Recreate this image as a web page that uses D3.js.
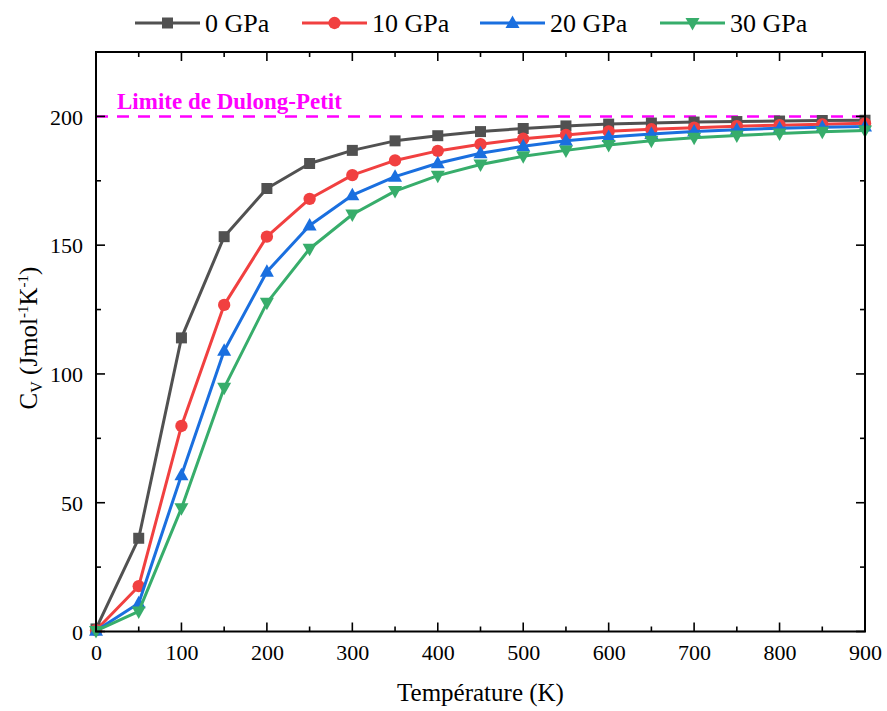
<!DOCTYPE html>
<html>
<head>
<meta charset="utf-8">
<script src="https://cdn.jsdelivr.net/npm/d3@7"></script>
<style>
  #chart text, #chart tspan { font-family: "Liberation Serif", "Times New Roman", Tinos, serif !important; }
</style>
</head>
<body style="margin:0;background:#fff">
<svg id="chart" width="887" height="711" font-family="Liberation Serif"></svg>
<script>
// Temperature grid (K)
const temperatures = [0, 50, 100, 150, 200, 250, 300, 350, 400, 450, 500, 550, 600, 650, 700, 750, 800, 850, 900];

// Heat capacity Cv (J mol^-1 K^-1) at each pressure
const cv0GPa  = [1.0, 36.2, 114.0, 153.3, 172.0, 181.7, 186.8, 190.5, 192.5, 194.1, 195.3, 196.3, 197.0, 197.4, 197.8, 198.0, 198.2, 198.4, 198.5];
const cv10GPa = [0.5, 17.6, 79.8, 126.8, 153.3, 168.0, 177.2, 182.9, 186.6, 189.2, 191.3, 192.8, 194.2, 195.0, 195.6, 196.2, 196.6, 196.9, 197.3];
const cv20GPa = [0.3, 11.0, 60.7, 109.0, 139.7, 157.6, 169.4, 176.6, 181.8, 185.7, 188.4, 190.5, 192.0, 193.2, 194.1, 194.8, 195.4, 195.8, 196.1];
const cv30GPa = [0.2, 7.8, 47.9, 94.6, 127.6, 148.6, 161.9, 171.0, 177.0, 181.3, 184.5, 186.8, 188.9, 190.5, 191.7, 192.6, 193.4, 194.0, 194.5];

const seriesNames = ["0 GPa", "10 GPa", "20 GPa", "30 GPa"];
const seriesValues = [cv0GPa, cv10GPa, cv20GPa, cv30GPa];
const seriesColors = ["#515151", "#F14040", "#1A6FDF", "#37AD6B"];
const seriesSymbols = ["square", "circle", "triangleUp", "triangleDown"];

const xTicks = [0, 100, 200, 300, 400, 500, 600, 700, 800, 900];
const yTicks = [0, 50, 100, 150, 200];
const dulongPetit = 200;

const FONT = '"Liberation Serif", "Times New Roman", Tinos, serif';
const svg = d3.select("#chart");
const margin = { left: 96, right: 22, top: 52, bottom: 80 };
const W = 887, H = 711;
const x = d3.scaleLinear().domain([0, 900]).range([margin.left, W - margin.right]);
const y = d3.scaleLinear().domain([0, 225]).range([H - margin.bottom + 0.5, margin.top]);

// Marker shapes
function symbolPath(kind) {
  if (kind === "square") return `M${-5.5},${-5.5}h11v11h-11z`;
  if (kind === "circle") return d3.symbol(d3.symbolCircle, 120)();
  if (kind === "triangleUp") return `M0,${-7.5}L${7},${5}L${-7},${5}Z`;
  return `M0,${7.5}L${7},${-5}L${-7},${-5}Z`;
}

// Dulong-Petit limit
svg.append("line")
  .attr("x1", x(0)).attr("x2", x(900))
  .attr("y1", y(dulongPetit)).attr("y2", y(dulongPetit))
  .attr("stroke", "#ff00ff").attr("stroke-width", 2.5)
  .attr("stroke-dasharray", "12,9");
svg.append("text")
  .attr("x", 117).attr("y", y(dulongPetit) - 7)
  .attr("fill", "#ff00ff").attr("font-weight", "bold").attr("font-size", 23)
  .text("Limite de Dulong-Petit");

// Series
const line = d3.line().x((d, i) => x(temperatures[i])).y(d => y(d));
seriesValues.forEach((vals, k) => {
  const g = svg.append("g");
  g.append("path").datum(vals)
    .attr("d", line).attr("fill", "none")
    .attr("stroke", seriesColors[k]).attr("stroke-width", 3)
    .attr("stroke-linejoin", "round");
  g.selectAll("path.m").data(vals).join("path").attr("class", "m")
    .attr("d", symbolPath(seriesSymbols[k]))
    .attr("transform", (d, i) => `translate(${x(temperatures[i])},${y(d)})`)
    .attr("fill", seriesColors[k]);
});

// Ticks point inward on all four sides
function drawTicks(orient) {
  const g = svg.append("g");
  const xMinor = d3.range(50, 900, 100);
  const yMinor = d3.range(25, 225, 50);
  if (orient === "bottom" || orient === "top") {
    const y0 = orient === "bottom" ? y(0) : y(225);
    const dir = orient === "bottom" ? -1 : 1;
    xTicks.forEach(t => g.append("line").attr("x1", x(t)).attr("x2", x(t)).attr("y1", y0).attr("y2", y0 + dir * 9));
    xMinor.forEach(t => g.append("line").attr("x1", x(t)).attr("x2", x(t)).attr("y1", y0).attr("y2", y0 + dir * 5));
  } else {
    const x0 = orient === "left" ? x(0) : x(900);
    const dir = orient === "left" ? 1 : -1;
    yTicks.concat([225]).forEach(t => g.append("line").attr("y1", y(t)).attr("y2", y(t)).attr("x1", x0).attr("x2", x0 + dir * 9));
    yMinor.forEach(t => g.append("line").attr("y1", y(t)).attr("y2", y(t)).attr("x1", x0).attr("x2", x0 + dir * 5));
  }
  g.selectAll("line").attr("stroke", "#000").attr("stroke-width", 1.6);
}
["bottom", "top", "left", "right"].forEach(drawTicks);

// Frame
svg.append("rect")
  .attr("x", x(0)).attr("y", y(225))
  .attr("width", x(900) - x(0)).attr("height", y(0) - y(225))
  .attr("fill", "none").attr("stroke", "#000").attr("stroke-width", 2);

// Tick labels via d3 axes
const gx = svg.append("g").attr("transform", `translate(0,${y(0)})`)
  .call(d3.axisBottom(x).tickValues(xTicks).tickSize(0).tickPadding(0));
gx.attr("font-family", null).attr("font-size", null);
gx.select(".domain").remove();
gx.selectAll("text").attr("font-size", 22).attr("fill", "#000").attr("dy", "1.3em");
const gy = svg.append("g").attr("transform", `translate(${x(0)},0)`)
  .call(d3.axisLeft(y).tickValues(yTicks).tickSize(0));
gy.attr("font-family", null).attr("font-size", null);
gy.select(".domain").remove();
gy.selectAll("text").attr("font-size", 22).attr("fill", "#000").attr("x", -13).attr("dy", "0.35em");

// Axis titles
svg.append("text")
  .attr("x", (x(0) + x(900)) / 2).attr("y", 701)
  .attr("text-anchor", "middle").attr("font-size", 25)
  .text("Température (K)");

const yt = svg.append("text")
  .attr("transform", `translate(37,338) rotate(-90)`)
  .attr("text-anchor", "middle").attr("font-size", 25);
yt.append("tspan").text("C");
yt.append("tspan").attr("font-size", 16).attr("dy", 5).text("V");
yt.append("tspan").attr("dy", -5).text(" (Jmol");
yt.append("tspan").attr("font-size", 15).attr("dy", -9).text("-1");
yt.append("tspan").attr("dy", 9).text("K");
yt.append("tspan").attr("font-size", 15).attr("dy", -9).text("-1");
yt.append("tspan").attr("dy", 9).text(")");

// Legend
const legendX = [135, 302, 480, 660];
const legendY = 23;
seriesNames.forEach((name, k) => {
  const g = svg.append("g");
  g.append("line")
    .attr("x1", legendX[k]).attr("x2", legendX[k] + 65)
    .attr("y1", legendY).attr("y2", legendY)
    .attr("stroke", seriesColors[k]).attr("stroke-width", 3);
  g.append("path").attr("d", symbolPath(seriesSymbols[k]))
    .attr("transform", `translate(${legendX[k] + 32.5},${legendY})`)
    .attr("fill", seriesColors[k]);
  g.append("text").attr("x", legendX[k] + 70).attr("y", legendY + 9)
    .attr("font-size", 26).text(name);
});

svg.selectAll("text, tspan").style("font-family", FONT, "important");
</script>
</body>
</html>
